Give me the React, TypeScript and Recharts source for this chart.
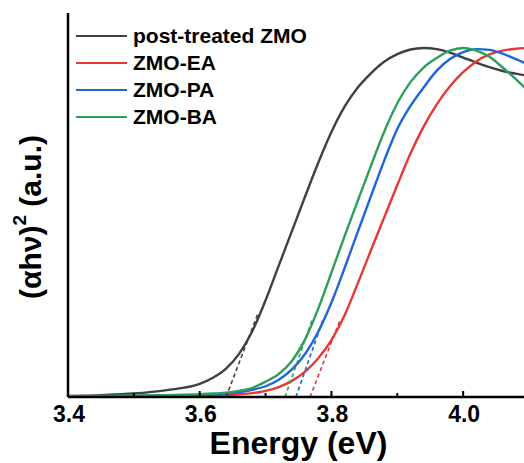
import { Label, Line, LineChart, XAxis, YAxis } from 'recharts';

// photon energy (eV), shared by the four measured curves
const energies = [
    3.4, 3.45, 3.5, 3.55, 3.6, 3.62, 3.64, 3.66, 3.68, 3.7, 3.72, 3.74, 3.76,
    3.78, 3.8, 3.82, 3.84, 3.86, 3.88, 3.9, 3.92, 3.94, 3.96, 3.98, 4.0, 4.02,
    4.04, 4.06, 4.08, 4.1,
];

const postTreated = [
    0.3, 0.5, 0.9, 1.8, 3.4, 5.0, 7.4, 11.3, 17.2, 25.2, 34.2, 43.2, 52.2, 61.0,
    69.0, 75.6, 80.6, 84.3, 87.3, 89.3, 90.5, 90.9, 90.6, 89.7, 88.4, 87.1, 85.9,
    84.9, 84.2, 83.6,
];
const zmoEA = [
    0.1, 0.1, 0.2, 0.2, 0.3, 0.4, 0.5, 0.7, 1.0, 1.6, 2.6, 4.2, 6.6, 10.1, 14.8,
    21.3, 29.6, 38.2, 46.7, 55.2, 63.4, 70.4, 76.2, 80.9, 84.6, 87.4, 89.2, 90.2,
    90.7, 90.9,
];
const zmoPA = [
    0.2, 0.2, 0.3, 0.4, 0.5, 0.7, 0.9, 1.3, 1.9, 2.8, 4.5, 7.2, 11.2, 17.0, 24.6,
    33.6, 43.0, 52.3, 61.5, 69.8, 75.8, 80.6, 85.0, 88.0, 89.8, 90.6, 90.4, 89.4,
    88.0, 86.5,
];
const zmoBA = [
    0.2, 0.3, 0.4, 0.5, 0.7, 0.9, 1.1, 1.6, 2.4, 4.0, 6.0, 9.4, 15.0, 23.0, 32.4,
    41.9, 51.1, 60.2, 69.0, 76.5, 82.0, 85.8, 88.3, 90.2, 90.9, 90.2, 88.6, 85.8,
    82.8, 79.5,
];

// Tauc extrapolation lines: [start energy, end energy], [start value, end value]
const fitPost = { e: [3.64, 3.689], v: [0, 22] };
const fitEA = { e: [3.7675, 3.813], v: [0, 20] };
const fitPA = { e: [3.746, 3.787], v: [0, 20] };
const fitBA = { e: [3.7295, 3.7705], v: [0, 20] };

const xTicks = [3.4, 3.5, 3.6, 3.7, 3.8, 3.9, 4.0, 4.1];
const majorTicks = [3.4, 3.6, 3.8, 4.0];

const series = [
    { name: 'post-treated ZMO', values: postTreated, fit: fitPost, color: '#404040' },
    { name: 'ZMO-EA', values: zmoEA, fit: fitEA, color: '#e53935' },
    { name: 'ZMO-PA', values: zmoPA, fit: fitPA, color: '#1c66d8' },
    { name: 'ZMO-BA', values: zmoBA, fit: fitBA, color: '#2e9e5b' },
];

const FONT = '"Liberation Sans", Arial, sans-serif';

function toPoints(values: number[]) {
    return energies.map((e, i) => ({ e, v: values[i] }));
}

function fitPoints(fit: { e: number[]; v: number[] }) {
    return fit.e.map((e, i) => ({ e, v: fit.v[i] }));
}

function EnergyTick({ x, y, payload }: any) {
    const value = payload.value as number;
    const major = majorTicks.some((t) => Math.abs(t - value) < 1e-6);
    return (
        <g>
            <line x1={x} x2={x} y1={y} y2={y - (major ? 6 : 4)} stroke="#000" strokeWidth={2} />
            {major && (
                <text
                    x={x + 1}
                    y={y + 25}
                    textAnchor="middle"
                    fontFamily={FONT}
                    fontWeight="bold"
                    fontSize={23}
                    fill="#000"
                >
                    {value.toFixed(1)}
                </text>
            )}
        </g>
    );
}

function YTitle({ viewBox }: any) {
    const cx = 30;
    const cy = viewBox.y + 204;
    return (
        <text
            x={cx}
            y={cy}
            transform={`rotate(-90 ${cx} ${cy})`}
            textAnchor="middle"
            dominantBaseline="central"
            fontFamily={FONT}
            fontWeight="bold"
            fontSize={30}
            fill="#000"
        >
            (αhν)
            <tspan fontSize={19} dy={-11}>2</tspan>
            <tspan dy={11}> (a.u.)</tspan>
        </text>
    );
}

export default function App() {
    return (
        <div
            style={{
                position: 'absolute',
                left: 0,
                top: 0,
                width: 524,
                height: 463,
                overflow: 'hidden',
                background: '#fff',
            }}
        >
            <LineChart
                width={531}
                height={463}
                margin={{ top: 13, right: 2, bottom: 0, left: 0 }}
            >
                <XAxis
                    dataKey="e"
                    type="number"
                    domain={[3.4, 4.1]}
                    ticks={xTicks}
                    interval={0}
                    allowDataOverflow
                    height={66}
                    tickSize={0}
                    tickMargin={0}
                    tickLine={false}
                    tick={<EnergyTick />}
                    axisLine={{ stroke: '#000', strokeWidth: 2.5 }}
                >
                    <Label
                        value="Energy (eV)"
                        position="insideBottom"
                        offset={9}
                        style={{
                            fontFamily: FONT,
                            fontWeight: 'bold',
                            fontSize: 32,
                            fill: '#000',
                        }}
                    />
                </XAxis>
                <XAxis
                    xAxisId="top"
                    orientation="top"
                    type="number"
                    domain={[3.4, 4.1]}
                    height={0}
                    tick={false}
                    tickLine={false}
                    axisLine={{ stroke: '#000', strokeWidth: 2.5 }}
                />
                <YAxis
                    type="number"
                    domain={[0, 100]}
                    width={68}
                    tick={false}
                    tickLine={false}
                    axisLine={{ stroke: '#000', strokeWidth: 2.5 }}
                >
                    <Label content={<YTitle />} />
                </YAxis>
                {series.map((s) => (
                    <Line
                        key={s.name}
                        data={toPoints(s.values)}
                        dataKey="v"
                        type="monotone"
                        stroke={s.color}
                        strokeWidth={2.4}
                        dot={false}
                        isAnimationActive={false}
                    />
                ))}
                {series.map((s) => (
                    <Line
                        key={s.name + '-fit'}
                        data={fitPoints(s.fit)}
                        dataKey="v"
                        type="linear"
                        stroke={s.color}
                        strokeWidth={1.6}
                        strokeDasharray="4 3"
                        dot={false}
                        isAnimationActive={false}
                    />
                ))}
            </LineChart>
            <div
                style={{
                    position: 'absolute',
                    left: 76,
                    top: 22,
                    fontFamily: FONT,
                    fontWeight: 'bold',
                    fontSize: 21,
                    lineHeight: '27px',
                }}
            >
                {series.map((s) => (
                    <div key={s.name} style={{ display: 'flex', alignItems: 'center' }}>
                        <span
                            style={{
                                display: 'inline-block',
                                width: 51,
                                height: 2,
                                background: s.color,
                                marginRight: 6,
                            }}
                        />
                        <span>{s.name}</span>
                    </div>
                ))}
            </div>
        </div>
    );
}
